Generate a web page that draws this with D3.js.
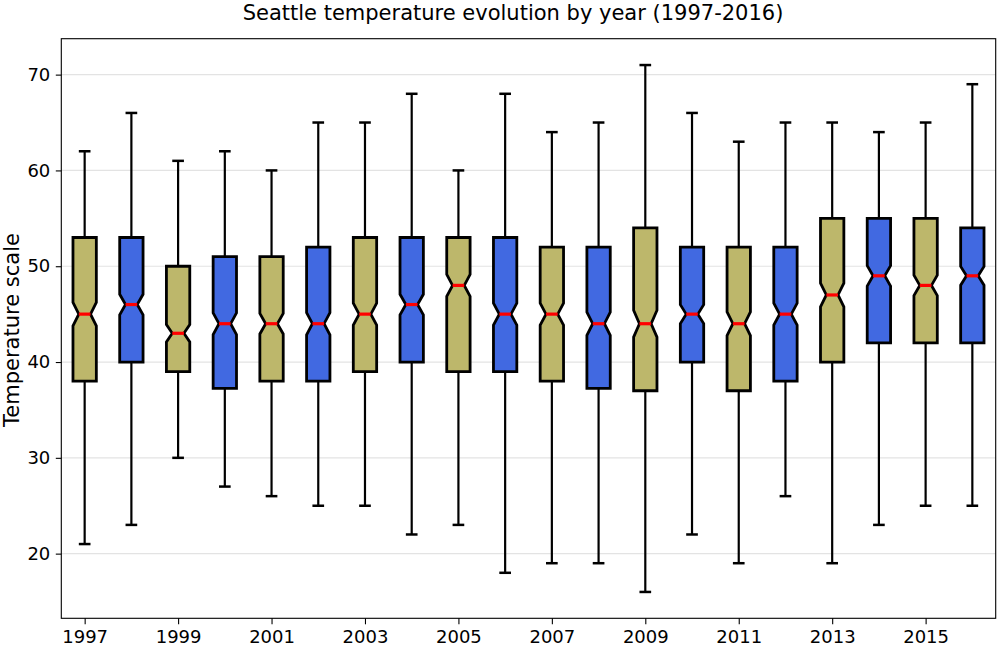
<!DOCTYPE html>
<html><head><meta charset="utf-8">
<script src="https://cdn.jsdelivr.net/npm/d3@7"></script>
<style>body{margin:0;background:#fff}svg{display:block}text{font-family:"DejaVu Sans",sans-serif;fill:#000}</style>
</head><body><svg id="c" width="997" height="648"></svg>
<script>
const years   = [1997,1998,1999,2000,2001,2002,2003,2004,2005,2006,2007,2008,2009,2010,2011,2012,2013,2014,2015,2016];
const whiskLo = [21,23,30,27,26,25,25,22,23,18,19,19,16,22,19,26,19,23,25,25];
const q1      = [38,40,39,37.25,38,38,39,40,39,39,38,37.25,37,40,37,38,40,42,42,42];
const medians = [45,46,43,44,44,44,45,46,48,45,45,44,44,45,44,45,47,49,48,49];
const q3      = [53,53,50,51,51,52,53,53,53,53,52,52,54,52,52,52,55,55,55,54];
const whiskHi = [62,66,61,62,60,65,65,68,60,68,64,65,71,66,63,65,65,64,65,69];
const sampleSize = 365;
const boxColors = ["#bdb76b","#4169e1"];
const yTicks = [20,30,40,50,60,70];
const xTickYears = [1997,1999,2001,2003,2005,2007,2009,2011,2013,2015];

const svg = d3.select("#c");
const L=61.3,R=995.7,T=38.7,B=618.3;
const x = d3.scaleLinear().domain([0.5,20.5]).range([L,R]);
const y = d3.scaleLinear().domain([13.25,73.75]).range([B,T]);

// grid
svg.append("g").selectAll("line").data(yTicks).join("line")
  .attr("x1",L).attr("x2",R).attr("y1",d=>y(d)).attr("y2",d=>y(d))
  .attr("stroke","#e3e3e3").attr("stroke-width",1.2);

const data = years.map((yr,i)=>({yr,pos:i+1,lo:whiskLo[i],q1:q1[i],med:medians[i],q3:q3[i],hi:whiskHi[i],
  notch:1.57*(q3[i]-q1[i])/Math.sqrt(sampleSize),color:boxColors[i%2]}));

const g = svg.append("g");
const bw = 0.5;
// whiskers
g.selectAll(".wl").data(data).join("line").attr("x1",d=>x(d.pos)).attr("x2",d=>x(d.pos))
  .attr("y1",d=>y(d.q1)).attr("y2",d=>y(d.lo)).attr("stroke","#000").attr("stroke-width",2.2);
g.selectAll(".wh").data(data).join("line").attr("x1",d=>x(d.pos)).attr("x2",d=>x(d.pos))
  .attr("y1",d=>y(d.q3)).attr("y2",d=>y(d.hi)).attr("stroke","#000").attr("stroke-width",2.2);
// caps
["lo","hi"].forEach(k=>{
  g.selectAll(".cap"+k).data(data).join("line")
    .attr("x1",d=>x(d.pos-bw/4)).attr("x2",d=>x(d.pos+bw/4))
    .attr("y1",d=>y(d[k])).attr("y2",d=>y(d[k])).attr("stroke","#000").attr("stroke-width",2.5);
});
// notched boxes
g.selectAll(".box").data(data).join("path")
  .attr("d",d=>{
    const l=d.pos-bw/2,r=d.pos+bw/2,cl=d.pos-bw/4,cr=d.pos+bw/4;
    const nl=d.med-d.notch,nh=d.med+d.notch;
    const pts=[[l,d.q1],[r,d.q1],[r,nl],[cr,d.med],[r,nh],[r,d.q3],[l,d.q3],[l,nh],[cl,d.med],[l,nl]];
    return "M"+pts.map(p=>x(p[0])+","+y(p[1])).join("L")+"Z";
  })
  .attr("fill",d=>d.color).attr("stroke","#000").attr("stroke-width",2.8).attr("stroke-linejoin","miter");
// medians
g.selectAll(".med").data(data).join("line")
  .attr("x1",d=>x(d.pos-bw/4)).attr("x2",d=>x(d.pos+bw/4))
  .attr("y1",d=>y(d.med)).attr("y2",d=>y(d.med)).attr("stroke","#ff0000").attr("stroke-width",3.2);

// frame
svg.append("rect").attr("x",L).attr("y",T).attr("width",R-L).attr("height",B-T)
  .attr("fill","none").attr("stroke","#000").attr("stroke-width",1.1);

// axes
const yAxis = svg.append("g").attr("transform",`translate(${L},0)`)
  .call(d3.axisLeft(y).tickValues(yTicks).tickSize(5.5).tickPadding(5.5));
const xAxis = svg.append("g").attr("transform",`translate(0,${B})`)
  .call(d3.axisBottom(x).tickValues(xTickYears.map(v=>years.indexOf(v)+1)).tickFormat(v=>years[v-1]).tickSize(6).tickPadding(6));
[yAxis,xAxis].forEach(a=>{a.select(".domain").remove();
  a.selectAll("line").attr("stroke","#000").attr("stroke-width",1.1);
  a.selectAll("text").attr("font-size",18).attr("font-family","DejaVu Sans").attr("fill","#000");});

svg.append("text").attr("x",513).attr("y",20).attr("text-anchor","middle").attr("font-size",21)
  .text("Seattle temperature evolution by year (1997-2016)");
svg.append("text").attr("transform","translate(18.5,330) rotate(-90)").attr("text-anchor","middle").attr("font-size",21)
  .text("Temperature scale");
</script></body></html>
